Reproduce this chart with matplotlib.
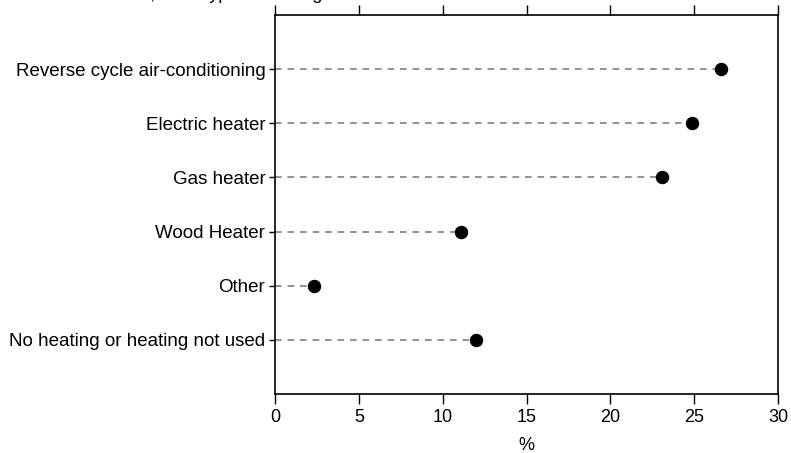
import matplotlib
matplotlib.use("Agg")
import matplotlib.pyplot as plt

categories = ["Reverse cycle air-conditioning", "Electric heater", "Gas heater",
              "Wood Heater", "Other", "No heating or heating not used"]
values = [26.6, 24.9, 23.1, 11.1, 2.3, 12.0]
xticks = [0, 5, 10, 15, 20, 25, 30]
title = "Households, main type of heating used"

plt.rcParams['font.family'] = ['Liberation Sans', 'DejaVu Sans']
plt.rcParams['font.size'] = 13

fig = plt.figure(figsize=(7.91, 4.53), dpi=100)
ax = fig.add_axes([275/791, 1 - 394/453, (778 - 275)/791, (394 - 15)/453])

ypos = list(range(len(categories)))
for y, v in zip(ypos, values):
    ax.plot([0, v], [y, y], linestyle=(0, (4, 3.5)), color='#808080', lw=1.2, zorder=1)
ax.scatter(values, ypos, s=75, color='black', zorder=3)

ax.set_xlim(0, 30)
ax.set_ylim(len(categories), -1)
ax.set_xticks(xticks)
ax.set_xticklabels([str(t) for t in xticks])
ax.set_yticks(ypos)
ax.set_yticklabels(categories, fontsize=13.5)
ax.set_xlabel('%', labelpad=8)
ax.tick_params(axis='x', which='both', top=True, direction='out', length=7, width=1, pad=4)
ax.tick_params(axis='y', left=True, right=False, direction='out', length=4, width=1, pad=3)
for s in ax.spines.values():
    s.set_linewidth(1.2)

fig.text(55/791, 1.003, title, ha='left', va='baseline', fontsize=13)

fig.savefig('out.png', dpi=100)
